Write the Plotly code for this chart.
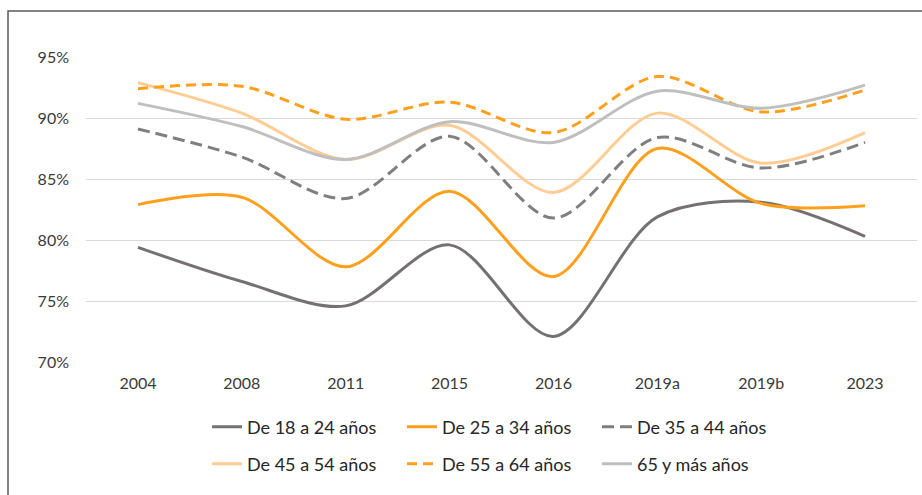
import plotly.graph_objects as go

years = ["2004", "2008", "2011", "2015", "2016", "2019a", "2019b", "2023"]
g18_24 = [79.4, 76.6, 74.6, 79.6, 72.1, 81.9, 83.1, 80.3]
g25_34 = [82.9, 83.5, 77.8, 84.0, 77.0, 87.5, 83.0, 82.8]
g35_44 = [89.1, 86.8, 83.4, 88.5, 81.8, 88.4, 85.9, 88.0]
g45_54 = [92.9, 90.4, 86.6, 89.4, 83.9, 90.4, 86.3, 88.8]
g55_64 = [92.4, 92.6, 89.9, 91.3, 88.8, 93.4, 90.5, 92.3]
g65 = [91.2, 89.3, 86.6, 89.7, 88.0, 92.2, 90.8, 92.7]

series = [
    ("De 18 a 24 años", g18_24, "#767171", "solid", "legend"),
    ("De 25 a 34 años", g25_34, "#FF9F1C", "solid", "legend"),
    ("De 35 a 44 años", g35_44, "#7F7F7F", "12px,6px", "legend"),
    ("De 45 a 54 años", g45_54, "#FFCD94", "solid", "legend2"),
    ("De 55 a 64 años", g55_64, "#FF9F1C", "10px,6px", "legend2"),
    ("65 y más años", g65, "#BFBFBF", "solid", "legend2"),
]

fig = go.Figure()
for name, vals, color, dash, lg in series:
    fig.add_trace(go.Scatter(
        x=years, y=[v / 100 for v in vals], name=name, mode="lines",
        line=dict(color=color, width=3, dash=dash, shape="spline", smoothing=0.9),
        legend=lg,
    ))

font = dict(family="Lato, Carlito, sans-serif", size=16, color="#3A3A3A")
legend_common = dict(orientation="h", xanchor="left", yanchor="middle",
                     entrywidth=150, entrywidthmode="pixels",
                     font=dict(family="Lato, Carlito, sans-serif", size=18, color="#262626"),
                     bgcolor="rgba(0,0,0,0)", itemwidth=30)

fig.update_layout(
    width=922, height=495,
    margin=dict(l=86, r=5, t=57, b=133, autoexpand=False),
    paper_bgcolor="white", plot_bgcolor="white",
    font=font,
    showlegend=True,
    legend=dict(x=(207 - 86) / 831, y=(362 - 427) / 305, **legend_common),
    legend2=dict(x=(207 - 86) / 831, y=(362 - 464) / 305, **legend_common),
    xaxis=dict(range=[-0.5, 7.5], showgrid=False, showline=False, zeroline=False,
               ticks="", ticklabelstandoff=10, tickfont=font),
    yaxis=dict(range=[0.70, 0.95], tickvals=[0.70, 0.75, 0.80, 0.85, 0.90, 0.95],
               tickformat=".0%", showgrid=True, gridcolor="#D9D9D9", gridwidth=1,
               zeroline=False, showline=False, ticks="", ticklabelstandoff=16,
               tickfont=font),
    shapes=[dict(type="rect", xref="paper", yref="paper",
                 x0=(8 - 86) / 831, x1=1.05, y0=-0.6, y1=(362 - 11) / 305,
                 line=dict(color="#595959", width=1.5), layer="below")],
)

fig.write_html("out.html", config={"displayModeBar": False},
               post_script="document.body.style.margin='0';")
